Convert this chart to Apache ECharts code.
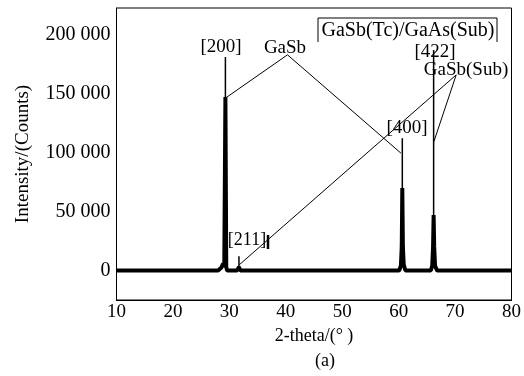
<!DOCTYPE html>
<html><head><meta charset="utf-8">
<script src="https://cdn.jsdelivr.net/npm/echarts@6/dist/echarts.min.js"></script>
<style>html,body{margin:0;padding:0;background:#fff}#c{width:524px;height:376px}</style>
</head><body><div id="c"></div>
<script>
// Main pattern (2θ, intensity)
const twoTheta  = [10, 28.0, 28.6, 28.9, 29.1, 29.3, 29.45, 29.6, 31.4, 31.6, 31.7, 31.8, 31.95, 60.1, 60.4, 60.55, 60.65, 60.75, 60.9, 61.2, 65.7, 65.95, 66.1, 66.2, 66.3, 66.45, 66.8, 80];
const intensity = [0,  0,    2500, 6000, 3000, 147000, 3000, 0,   0,    1500, 3000, 1500, 0,     0,    4000, 20000, 70000, 20000, 5000, 0,    0,    4000,  20000, 47000, 20000, 4000, 0,   0];
// Thin peak tips
const tipAngle = [29.3, 31.7, 60.65, 66.2];
const tipFrom  = [140000, 3000, 65000, 44000];
const tipTo    = [181000, 12000, 112000, 187000];
// Y tick labels
const yTicks = [0, 50000, 100000, 150000, 200000];
// Leader lines: [from 2θ, from I, to 2θ, to I]
const leaders = [
  [40.3, 182800, 29.45, 146600],
  [40.3, 182800, 60.4, 99500],
  [70.2, 165800, 66.25, 109300],
  [70.2, 165800, 31.75, 4800]
];
const F = '"Liberation Serif", "Times New Roman", serif';
const chart = echarts.init(document.getElementById('c'));
const series = [{
  type: 'line', data: twoTheta.map((x, i) => [x, intensity[i]]), symbol: 'none',
  lineStyle: { color: '#000', width: 4 }, z: 3,
  markLine: {
    silent: true, symbol: 'none', label: { show: false },
    lineStyle: { color: '#000', width: 1, type: 'solid' },
    data: leaders.map(l => [{ coord: [l[0], l[1]] }, { coord: [l[2], l[3]] }])
  }
}];
tipAngle.forEach((a, i) => series.push({
  type: 'line', data: [[a, tipFrom[i]], [a, tipTo[i]]], symbol: 'none',
  lineStyle: { color: '#000', width: 1.5 }, z: 3
}));
const txt = (x, y, s, size) => ({ type: 'text', x, y, style: { text: s, font: (size || 18) + 'px ' + F, fill: '#000', align: 'center', verticalAlign: 'middle' } });
chart.setOption({
  animation: false,
  grid: { left: 116.5, right: 12.5, top: 8, bottom: 76, show: true, borderColor: '#000', borderWidth: 1 },
  xAxis: {
    type: 'value', min: 10, max: 80, interval: 10,
    name: '2-theta/(° )', nameLocation: 'middle', nameGap: 21,
    nameTextStyle: { fontFamily: F, fontSize: 18, color: '#000' },
    axisLine: { onZero: false, lineStyle: { color: '#000' } },
    axisTick: { show: false }, splitLine: { show: false },
    axisLabel: { fontFamily: F, fontSize: 19, color: '#000', margin: 3 }
  },
  yAxis: {
    type: 'value', min: -25000, max: 222500,
    name: 'Intensity/(Counts)', nameLocation: 'middle', nameGap: 84,
    nameTextStyle: { fontFamily: F, fontSize: 19, color: '#000' },
    axisLine: { show: true, lineStyle: { color: '#000' } },
    axisTick: { show: false }, splitLine: { show: false },
    axisLabel: { fontFamily: F, fontSize: 20, color: '#000', margin: 6,
      customValues: yTicks,
      formatter: v => String(v).replace(/\B(?=(\d{3})+(?!\d))/g, ' ') }
  },
  series,
  graphic: [
    txt(221, 47, '[200]', 19),
    txt(285, 48, 'GaSb', 19),
    txt(407, 128, '[400]', 19),
    txt(435, 52, '[422]', 19),
    txt(466, 70, 'GaSb(Sub)', 19),
    txt(247, 240, '[211]', 18),
    txt(408, 31, 'GaSb(Tc)/GaAs(Sub)', 20),
    txt(325, 361, '(a)', 18),
    { type: 'line', shape: { x1: 268, y1: 235, x2: 268, y2: 249 }, style: { stroke: '#000', lineWidth: 2.5 } },
    { type: 'polyline', shape: { points: [[318, 42], [318, 18], [497, 18], [497, 42]] }, style: { stroke: '#000', lineWidth: 1, fill: null } }
  ]
});
</script></body></html>
